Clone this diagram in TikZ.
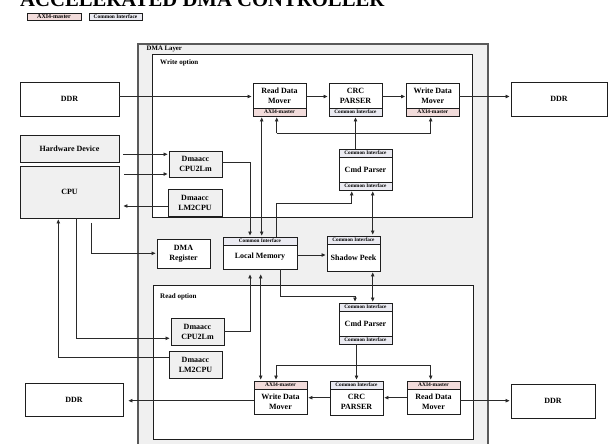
\documentclass[tikz,border=0pt]{standalone}
\usepackage{fontspec}
\setmainfont{Liberation Serif}
\usetikzlibrary{arrows.meta}
\definecolor{axipink}{HTML}{F2DCDB}
\definecolor{cigray}{HTML}{EBEBF2}
\definecolor{layergray}{HTML}{F0F0F0}
\definecolor{boxgray}{HTML}{F0F0F0}
\definecolor{edgecol}{HTML}{1E1E1E}
\definecolor{layeredge}{HTML}{5A5A5A}
\definecolor{wire}{HTML}{2A2A2A}
\begin{document}
\begin{tikzpicture}[x=1pt,y=-1pt,
  blk/.style={draw=edgecol, line width=0.9pt, fill=white, inner sep=0pt, align=center,
    font=\fontsize{8}{10}\selectfont\bfseries},
  graybox/.style={blk, fill=boxgray},
  axistrip/.style={draw=edgecol, line width=0.9pt, fill=axipink, inner sep=0pt,
    font=\fontsize{5.5}{6}\selectfont\bfseries},
  cistrip/.style={draw=edgecol, line width=0.9pt, fill=cigray, inner sep=0pt,
    font=\fontsize{5.2}{6}\selectfont\bfseries},
  caption/.style={anchor=west, inner sep=0pt, font=\fontsize{6.8}{8}\selectfont\bfseries},
  conn/.style={draw=wire, line width=0.8pt},
  arr/.style={conn, -{Triangle[length=4pt,width=3.4pt]}, shorten >=1pt},
  darr/.style={conn, {Triangle[length=4pt,width=3.4pt]}-{Triangle[length=4pt,width=3.4pt]}, shorten >=1pt, shorten <=1pt},
]
\useasboundingbox (0,0) rectangle (610,444);
\clip (0,0) rectangle (610,444);
\fill[white] (0,0) rectangle (610,444);

% heading and legend
\node[anchor=base west, inner sep=0pt, font=\fontsize{20.7}{24}\selectfont\bfseries] (title) at (20,7) {ACCELERATED DMA CONTROLLER};
\node[axistrip, font=\fontsize{6}{7}\selectfont\bfseries, minimum width=54pt, minimum height=7.5pt] (legA) at (54,16.75) {AXI4-master};
\node[cistrip, font=\fontsize{5.4}{6}\selectfont\bfseries, minimum width=53pt, minimum height=7.5pt] (legC) at (115.5,16.75) {Common Interface};

% containers
\node[draw=layeredge, line width=1.4pt, fill=layergray, minimum width=350pt, minimum height=426pt, inner sep=0pt] (dmalayer) at (313,257) {};
\node[caption] (dmalabel) at (146.5,49) {DMA Layer};
\node[draw=edgecol, line width=1pt, fill=white, minimum width=319.3pt, minimum height=162pt, inner sep=0pt] (writeopt) at (312.35,136) {};
\node[caption, font=\fontsize{7}{8}\selectfont\bfseries] (writelabel) at (160,62.5) {Write option};
\node[draw=edgecol, line width=1pt, fill=white, minimum width=320pt, minimum height=154pt, inner sep=0pt] (readopt) at (313,362) {};
\node[caption, font=\fontsize{7}{8}\selectfont\bfseries] (readlabel) at (160,296.5) {Read option};

% outside blocks
\node[blk, minimum width=99pt, minimum height=34pt] (ddr1) at (69.5,99) {DDR};
\node[blk, minimum width=96pt, minimum height=34pt] (ddr2) at (559,99) {DDR};
\node[graybox, minimum width=99pt, minimum height=27pt] (hw) at (69.5,148.5) {Hardware Device};
\node[graybox, minimum width=99pt, minimum height=52pt] (cpu) at (69.5,192) {CPU};
\node[blk, minimum width=98pt, minimum height=33pt] (ddr3) at (74,399.5) {DDR};
\node[blk, minimum width=84pt, minimum height=34pt] (ddr4) at (553,401) {DDR};

% write path
\node[graybox, minimum width=53pt, minimum height=26pt] (c2lw) at (195.5,164) {Dmaacc\\CPU2Lm};
\node[graybox, minimum width=54pt, minimum height=27pt] (l2cw) at (195,202.5) {Dmaacc\\LM2CPU};
\node[blk, minimum width=53pt, minimum height=25pt] (rdmw) at (279.5,95.5) {Read Data\\Mover};
\node[axistrip, minimum width=53pt, minimum height=8pt] (rdmwS) at (279.5,112) {AXI4-master};
\node[blk, minimum width=53pt, minimum height=25pt] (crcw) at (355.5,95.5) {CRC\\PARSER};
\node[cistrip, minimum width=53pt, minimum height=8pt] (crcwS) at (355.5,112) {Common Interface};
\node[blk, minimum width=52.5pt, minimum height=25pt] (wdmw) at (432.75,95.5) {Write Data\\Mover};
\node[axistrip, minimum width=52.5pt, minimum height=8pt] (wdmwS) at (432.75,112) {AXI4-master};
\node[blk, minimum width=53pt, minimum height=25pt] (cmdw) at (365.5,169.5) {Cmd Parser};
\node[cistrip, minimum width=53pt, minimum height=8pt] (cmdwT) at (365.5,153) {Common Interface};
\node[cistrip, minimum width=53pt, minimum height=8pt] (cmdwB) at (365.5,186) {Common Interface};

% shared layer blocks
\node[blk, minimum width=74pt, minimum height=24pt] (lm) at (260,257) {Local Memory};
\node[cistrip, minimum width=74pt, minimum height=8pt] (lmS) at (260,241) {Common Interface};
\node[blk, minimum width=53pt, minimum height=27pt] (sp) at (353.5,257.5) {Shadow Peek};
\node[cistrip, minimum width=53pt, minimum height=8pt] (spS) at (353.5,240) {Common Interface};
\node[blk, minimum width=53pt, minimum height=29pt] (dreg) at (183.5,253.5) {DMA\\Register};

% read path
\node[blk, minimum width=53pt, minimum height=25pt] (cmdr) at (365.5,323.5) {Cmd Parser};
\node[cistrip, minimum width=53pt, minimum height=8pt] (cmdrT) at (365.5,307) {Common Interface};
\node[cistrip, minimum width=53pt, minimum height=8pt] (cmdrB) at (365.5,340) {Common Interface};
\node[graybox, minimum width=53pt, minimum height=27pt] (c2lr) at (197.5,331.5) {Dmaacc\\CPU2Lm};
\node[graybox, minimum width=53pt, minimum height=27pt] (l2cr) at (195.5,364.5) {Dmaacc\\LM2CPU};
\node[blk, minimum width=53pt, minimum height=25pt] (wdmr) at (280.5,401.5) {Write Data\\Mover};
\node[axistrip, minimum width=53pt, minimum height=8pt] (wdmrS) at (280.5,385) {AXI4-master};
\node[blk, minimum width=53pt, minimum height=26pt] (crcr) at (356.5,402) {CRC\\PARSER};
\node[cistrip, minimum width=53pt, minimum height=8pt] (crcrS) at (356.5,385) {Common Interface};
\node[blk, minimum width=53pt, minimum height=25pt] (rdmr) at (433.5,401.5) {Read Data\\Mover};
\node[axistrip, minimum width=53pt, minimum height=8pt] (rdmrS) at (433.5,385) {AXI4-master};

% write path connectors
\draw[arr] (ddr1.east |- 0,96.5) -- (rdmw.west |- 0,96.5);
\draw[arr] (rdmw.east |- 0,96.5) -- (crcw.west |- 0,96.5);
\draw[arr] (crcw.east |- 0,96.5) -- (wdmw.west |- 0,96.5);
\draw[arr] (wdmw.east |- 0,96.5) -- (ddr2.west |- 0,96.5);
\draw[darr] (lmS.north -| 261.7,0) -- (rdmwS.south -| 261.7,0);
\draw[arr] (cmdwT.north -| crcwS.south) -- (crcwS.south);
\coordinate (wbl) at (276.7,133);
\coordinate (wbr) at (430.7,133);
\draw[conn] (wbl) -- (wbr);
\draw[arr] (wbl) -- (wbl |- rdmwS.south);
\draw[arr] (wbr) -- (wbr |- wdmwS.south);
\draw[arr] (lmS.north -| 276.7,0) -- (276.7,203.3) -| (cmdwB.south -| 351.7,0);
\draw[darr] (cmdwB.south -| 372.7,0) -- (spS.north -| 372.7,0);
\draw[arr] (lm.east |- 0,255) -- (sp.west |- 0,255);
\draw[arr] (c2lw.east |- 0,162.5) -| (lmS.north -| 250,0);
\draw[arr, shorten <=4pt] (hw.east |- 0,154.3) -- (c2lw.west |- 0,154.3);
\draw[arr, shorten <=5pt] (cpu.east |- 0,174) -- (c2lw.west |- 0,174);
\draw[arr, shorten >=4pt] (l2cw.west |- 0,206) -- (cpu.east |- 0,206);

% CPU side links
\draw[arr] (l2cr.west |- 0,357.3) -| (cpu.south -| 58.3,0);
\draw[arr] (cpu.south -| 76,0) |- (c2lr.west |- 0,338.3);
\draw[arr, shorten <=4.5pt] (cpu.south -| 91,0) |- (dreg.west |- 0,253.3);

% read path connectors
\draw[arr, shorten >=5pt] (c2lr.east |- 0,331) -| (lm.south -| 250,0);
\draw[darr, shorten <=5pt] (lm.south -| 260.7,0) -- (wdmrS.north -| 260.7,0);
\draw[arr] (lm.south -| 280.7,0) -- (280.7,296.7) -| (cmdrT.north -| 355,0);
\draw[darr] (sp.south -| 372.7,0) -- (cmdrT.north -| 372.7,0);
\draw[arr] (cmdrB.south -| crcrS.north) -- (crcrS.north);
\coordinate (rbl) at (276,365.7);
\coordinate (rbr) at (430.7,365.7);
\draw[conn] (rbl) -- (rbr);
\draw[arr] (rbl) -- (rbl |- wdmrS.north);
\draw[arr] (rbr) -- (rbr |- rdmrS.north);
\draw[arr] (rdmr.west |- 0,397.7) -- (crcr.east |- 0,397.7);
\draw[arr] (crcr.west |- 0,397.7) -- (wdmr.east |- 0,397.7);
\draw[arr, shorten >=5pt] (wdmr.west |- 0,400.7) -- (ddr3.east |- 0,400.7);
\draw[arr] (rdmr.east |- 0,400.7) -- (ddr4.west |- 0,400.7);
\end{tikzpicture}
\end{document}
